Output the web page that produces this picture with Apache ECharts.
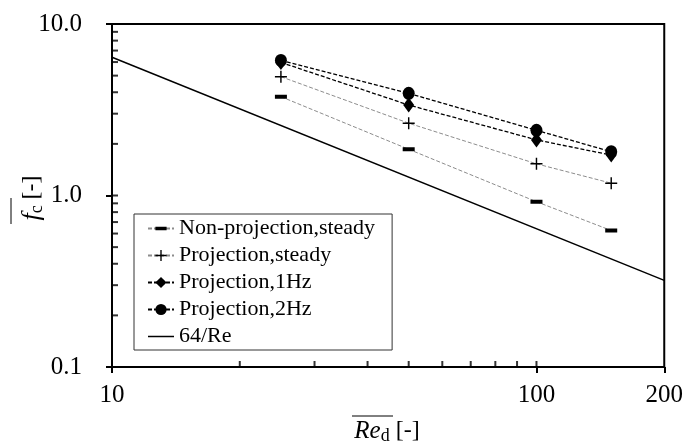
<!DOCTYPE html>
<html>
<head>
<meta charset="utf-8">
<script src="https://cdn.jsdelivr.net/npm/echarts@6/dist/echarts.min.js"></script>
<style>
  html, body { margin: 0; padding: 0; background: #fff; }
  #chart { width: 686px; height: 443px; }
</style>
</head>
<body>
<div id="chart"></div>
<script>
// Re_d values of the measured points
const reVals = [25, 50, 100, 150];
// friction factor f_c per case
const nonProjSteady = [3.77, 1.86, 0.92, 0.625];
const projSteady = [4.93, 2.64, 1.53, 1.18];
const proj1Hz = [5.97, 3.37, 2.11, 1.72];
const proj2Hz = [6.13, 3.94, 2.40, 1.80];
// laminar reference line 64/Re
const reLaminar = [10, 200];
const fLaminar = [6.4, 0.32];
// axis ranges and inner tick positions
const xMin = 10, xMax = 200;
const yMin = 0.1, yMax = 10;
const xInnerTicks = [20, 30, 40, 50, 60, 70, 80, 90, 100];
const yInnerTicks = [0.2, 0.3, 0.4, 0.5, 0.6, 0.7, 0.8, 0.9, 1, 2, 3, 4, 5, 6, 7, 8, 9];

const font = "Liberation Serif";
// flat bar marker; the two zero-size subpaths keep the box square so it stays flat in the legend too
const dashPath = "path://M0,4H12V8H0Z M0,0L0.01,0Z M0,12L0.01,12Z";
const plusPath = "path://M4.4,0H5.6V4.4H10V5.6H5.6V10H4.4V5.6H0V4.4H4.4Z";
const diamondPath = "path://M5.5,0L11,7.5L5.5,15L0,7.5Z";
const solidLinePath = "path://M0,0H26V1.5H0Z";

function pairs(xs, ys) {
  return xs.map((x, i) => [x, ys[i]]);
}

function pointSeries(name, ys, symbol, size, color, width) {
  return {
    name: name,
    type: "line",
    data: pairs(reVals, ys),
    symbol: symbol,
    symbolSize: size,
    itemStyle: { color: "#000" },
    lineStyle: { color: color, width: width, type: [4, 2] }
  };
}

// small inward tick marks placed through the axes
function tickSeries(name, data, size, offset) {
  return {
    name: name,
    type: "scatter",
    silent: true,
    clip: false,
    z: 5,
    data: data,
    symbol: "rect",
    symbolSize: size,
    symbolOffset: offset,
    itemStyle: { color: "#000" }
  };
}

let chart = echarts.init(document.getElementById("chart"));
chart.setOption({
  animation: false,
  grid: { left: 112, top: 24, right: 21, bottom: 76, show: true, borderColor: "#000", borderWidth: 2 },
  legend: {
    data: [
      "Non-projection,steady",
      "Projection,steady",
      "Projection,1Hz",
      "Projection,2Hz",
      { name: "64/Re", icon: solidLinePath }
    ],
    orient: "vertical",
    left: 134,
    top: 214,
    padding: [1, 17, 0, 13],
    itemGap: 0,
    itemWidth: 26,
    itemHeight: 14,
    borderColor: "#333",
    borderWidth: 1,
    backgroundColor: "#fff",
    textStyle: { fontFamily: font, fontSize: 22, color: "#000", lineHeight: 27 }
  },
  xAxis: {
    type: "log",
    logBase: 10,
    min: xMin,
    max: xMax,
    axisLine: { lineStyle: { color: "#000", width: 2 } },
    axisTick: { show: true, length: 6, lineStyle: { color: "#000", width: 2 } },
    splitLine: { show: false },
    axisLabel: { color: "#000", fontFamily: font, fontSize: 25, margin: 16 }
  },
  yAxis: {
    type: "log",
    logBase: 10,
    min: yMin,
    max: yMax,
    axisLine: { lineStyle: { color: "#000", width: 2 } },
    axisTick: { show: true, length: 6, lineStyle: { color: "#000", width: 2 } },
    splitLine: { show: false },
    axisLabel: {
      color: "#000", fontFamily: font, fontSize: 25, margin: 30,
      formatter: v => Number(v).toFixed(1)
    }
  },
  graphic: [
    {
      type: "text", x: 32, y: 198, rotation: Math.PI / 2,
      style: {
        text: "{f|f}{c|c} [-]",
        fontFamily: font, fontSize: 24, fill: "#000",
        align: "center", verticalAlign: "middle",
        rich: {
          f: { fontFamily: font, fontSize: 26, fontStyle: "italic", fill: "#000" },
          c: { fontFamily: font, fontSize: 18, fill: "#000", verticalAlign: "bottom", padding: [10, 0, 0, 0] }
        }
      }
    },
    { type: "line", shape: { x1: 11, y1: 198, x2: 11, y2: 224 }, style: { stroke: "#000", lineWidth: 1 } },
    {
      type: "text", x: 387, y: 431,
      style: {
        text: "{r|Re}{d|d} [-]",
        fontFamily: font, fontSize: 24, fill: "#000",
        align: "center", verticalAlign: "middle",
        rich: {
          r: { fontFamily: font, fontSize: 25, fontStyle: "italic", fill: "#000" },
          d: { fontFamily: font, fontSize: 18, fill: "#000", verticalAlign: "bottom", padding: [10, 0, 0, 0] }
        }
      }
    },
    { type: "line", shape: { x1: 352, y1: 416, x2: 393, y2: 416 }, style: { stroke: "#000", lineWidth: 1 } }
  ],
  series: [
    pointSeries("Non-projection,steady", nonProjSteady, dashPath, 12, "#8c8c8c", 1),
    pointSeries("Projection,steady", projSteady, plusPath, 12, "#8c8c8c", 1),
    pointSeries("Projection,1Hz", proj1Hz, diamondPath, [11, 15], "#000", 1.3),
    pointSeries("Projection,2Hz", proj2Hz, "circle", [12, 13], "#000", 1.3),
    {
      name: "64/Re",
      type: "line",
      data: pairs(reLaminar, fLaminar),
      symbol: "none",
      itemStyle: { color: "#000" },
      lineStyle: { color: "#000", width: 1.5 }
    },
    tickSeries("xticks", xInnerTicks.map(v => [v, yMin]), [2, 6], [0, -3]),
    tickSeries("yticks", yInnerTicks.map(v => [xMin, v]), [6, 2], [3, 0])
  ]
});
</script>
</body>
</html>
